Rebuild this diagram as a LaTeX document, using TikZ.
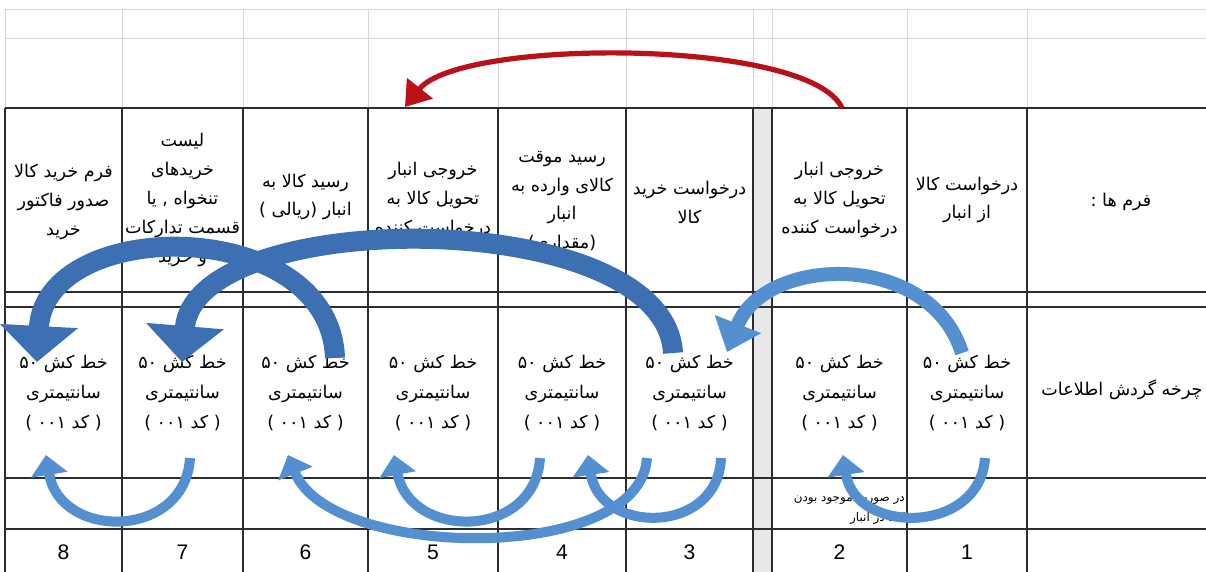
\documentclass[tikz,border=0pt]{standalone}
\usepackage{fontspec}
\setmainfont{Liberation Sans}
\newfontfamily\farsi[Script=Arabic]{DejaVu Sans}
\TeXXeTstate=1
\usetikzlibrary{arrows.meta}
\definecolor{GridLight}{RGB}{214,214,214}
\definecolor{GridDark}{RGB}{45,45,45}
\definecolor{StripGray}{RGB}{232,232,232}
\definecolor{FlowBlue}{RGB}{84,143,208}
\definecolor{FlowDeep}{RGB}{60,112,178}
\definecolor{FlowRed}{RGB}{186,16,24}
\newcommand{\rl}[1]{\beginR #1\endR}
\tikzset{
  sheet/thin/.style={draw=GridLight, line width=0.6pt},
  sheet/line/.style={draw=GridDark, line width=0.8pt},
  sheet/form/.style={font=\farsi\fontsize{12.5}{20.5}\selectfont, align=center, inner sep=0pt},
  sheet/item/.style={font=\farsi\fontsize{12.5}{21.5}\selectfont, align=center, inner sep=0pt},
  sheet/num/.style={font=\fontsize{15}{18}\selectfont, inner sep=0pt},
  sheet/note/.style={font=\farsi\fontsize{8.5}{14}\selectfont, align=right, inner sep=0pt},
  flow/big/.style={draw=FlowDeep, line width=0.5cm, -{Triangle[length=0.9cm,width=1.9cm]}},
  flow/mid/.style={draw=FlowBlue, line width=0.35cm, -{Triangle[length=0.75cm,width=1.2cm]}},
  flow/small/.style={draw=FlowBlue, line width=0.25cm, -{Triangle[length=0.5cm,width=0.9cm]}},
  flow/red/.style={draw=FlowRed, line width=0.13cm, -{Triangle[length=0.6cm,width=0.8cm]}}
}
\begin{document}
\begin{tikzpicture}[x=0.025cm,y=-0.025cm]
  \useasboundingbox (0,0) rectangle (1206,572);
  \fill[white] (0,0) rectangle (1206,572);
  % sheet grid
  \fill[StripGray] (753,108) rectangle (772,572);
  \foreach \y in {9,38} \draw[sheet/thin] (5,\y) -- (1206,\y);
  \foreach \x in {5,122,243,368,498,626,753,772,907,1027} \draw[sheet/thin] (\x,9) -- (\x,108);
  \foreach \y in {108,292,307,478,529} \draw[sheet/line] (5,\y) -- (1206,\y);
  \foreach \x in {5,122,243,368,498,626,753,772,907,1027} \draw[sheet/line] (\x,108) -- (\x,572);

  % forms row
  \node[sheet/form] (formhead) at (1121,202) {\rl{فرم ها :}};
  \node[sheet/form] (form1) at (967,200) {\rl{درخواست کالا}\\\rl{از انبار}};
  \node[sheet/form] (form2) at (839.5,200) {\rl{خروجی  انبار}\\\rl{تحویل کالا به}\\\rl{درخواست کننده}};
  \node[sheet/form] (form3) at (689.5,202) {\rl{درخواست خرید}\\\rl{کالا}};
  \node[sheet/form] (form4) at (562,202) {\rl{رسید موقت}\\\rl{کالای وارده به}\\\rl{انبار}\\\rl{(مقداری)}};
  \node[sheet/form] (form5) at (433,200) {\rl{خروجی  انبار}\\\rl{تحویل کالا به}\\\rl{درخواست کننده}};
  \node[sheet/form] (form6) at (305.5,197) {\rl{رسید کالا به}\\\rl{انبار (ریالی )}};
  \node[sheet/form] (form7) at (182.5,200) {\rl{لیست}\\\rl{خریدهای}\\\rl{تنخواه , یا}\\\rl{قسمت تدارکات}\\\rl{و خرید}};
  \node[sheet/form] (form8) at (63.5,202) {\rl{فرم خرید کالا}\\\rl{صدور فاکتور}\\\rl{خرید}};

  % items row
  \node[sheet/form] (itemhead) at (1122,390) {\rl{چرخه گردش اطلاعات}};
  \foreach \n/\x in {1/967,2/839.5,3/689.5,4/562,5/433,6/305.5,7/182.5,8/63.5}{
    \node[sheet/item] (item\n) at (\x,393) {\rl{خط کش ۵۰}\\\rl{سانتیمتری}\\\rl{( کد ۰۰۱ )}};
    \node[sheet/num] (num\n) at (\x,552) {\n};
  }
  \node[sheet/note, anchor=east] (note2) at (905,510) {\rl{در صورت موجود بودن}\\\rl{کالا در انبار}};

  % flow arrows
  \coordinate (r0) at (842,108);  \coordinate (r1) at (405,107);
  \coordinate (a1s) at (962,353); \coordinate (a1e) at (727,352);
  \coordinate (a2s) at (673,353); \coordinate (a2e) at (182,362);
  \coordinate (b1s) at (335,358); \coordinate (b1e) at (37,362);
  \coordinate (c1s) at (190,458); \coordinate (c1e) at (46,455);
  \coordinate (c2s) at (540,458); \coordinate (c2e) at (394,455);
  \coordinate (c3s) at (647,458); \coordinate (c3e) at (288,455);
  \coordinate (c4s) at (721,458); \coordinate (c4e) at (588,455);
  \coordinate (c5s) at (985,458); \coordinate (c5e) at (843,455);

  \draw[flow/red] (r0) .. controls (810,38) and (460,38) .. (r1);
  \draw[flow/mid] (a1s) .. controls (930,250) and (765,255) .. (a1e);
  \draw[flow/big] (a2s) .. controls (665,205) and (195,205) .. (a2e);
  \draw[flow/big] (b1s) .. controls (330,215) and (45,215) .. (b1e);
  \draw[flow/small] (c1s) .. controls (185,540) and (60,540) .. (c1e);
  \draw[flow/small] (c2s) .. controls (535,540) and (410,540) .. (c2e);
  \draw[flow/small] (c3s) .. controls (640,565) and (330,560) .. (c3e);
  \draw[flow/small] (c4s) .. controls (718,535) and (600,535) .. (c4e);
  \draw[flow/small] (c5s) .. controls (980,535) and (855,535) .. (c5e);
\end{tikzpicture}
\end{document}
